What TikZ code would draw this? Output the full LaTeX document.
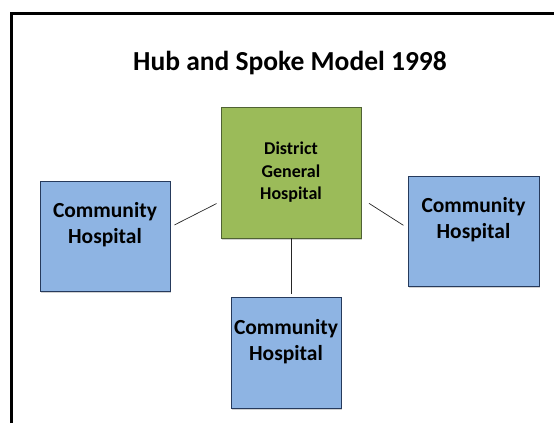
\documentclass[tikz,border=0pt]{standalone}
\usepackage{fontspec}
\setmainfont{Carlito}
\usetikzlibrary{positioning, calc, shadows}
\definecolor{spokeblue}{RGB}{142, 180, 227}
\definecolor{spokeedge}{RGB}{38, 58, 92}
\definecolor{hubgreen}{RGB}{155, 187, 89}
\definecolor{hubedge}{RGB}{80, 98, 52}

\begin{document}
\begin{tikzpicture}[x=1pt, y=-1pt,
    hubbox/.style={draw=hubedge, fill=hubgreen, line width=0.8pt, minimum width=140pt, minimum height=131pt,
      align=center, font=\fontsize{18}{22.5}\selectfont\bfseries,
      drop shadow={shadow xshift=0.8pt, shadow yshift=-1.5pt, fill=gray!70}},
    spokebox/.style={draw=spokeedge, fill=spokeblue, line width=0.8pt, minimum height=110pt,
      drop shadow={shadow xshift=0.8pt, shadow yshift=-1.5pt, fill=gray!70}},
    spoketext/.style={align=center, yshift=11pt, font=\fontsize{21.5}{26}\selectfont\bfseries},
    spoke/.style={draw=black!85, line width=0.7pt}]
  \useasboundingbox (0,0) rectangle (554,423);

  % page frame
  \draw[line width=3pt] (11,423) -- (11,13) -- (554,13);

  \node[font=\fontsize{27.5}{32}\selectfont\bfseries] (title) at (290,63.5) {Hub and Spoke Model 1998};

  % hub and spokes
  \node[hubbox] (dgh) at (291,172.5) {District\\General\\Hospital};
  \node[spokebox, minimum width=130pt, label={[spoketext]center:Community\\Hospital}] (lch) at (105,236) {};
  \node[spokebox, minimum width=131pt, label={[spoketext]center:Community\\Hospital}] (rch) at (473.5,231) {};
  \node[spokebox, minimum width=110pt, minimum height=111pt, label={[spoketext]center:Community\\Hospital}] (bch) at (286,352.5) {};

  % connectors
  \draw[spoke, shorten <=4.5pt, shorten >=4.5pt] ([yshift=9pt]lch.east) -- ([yshift=-29pt]dgh.west);
  \draw[spoke, shorten <=9pt, shorten >=5pt] ([yshift=-26pt]dgh.east) -- ([yshift=3pt]rch.west);
  \draw[spoke, shorten >=3pt] (dgh.south) -- (dgh.south |- bch.north);
\end{tikzpicture}
\end{document}
